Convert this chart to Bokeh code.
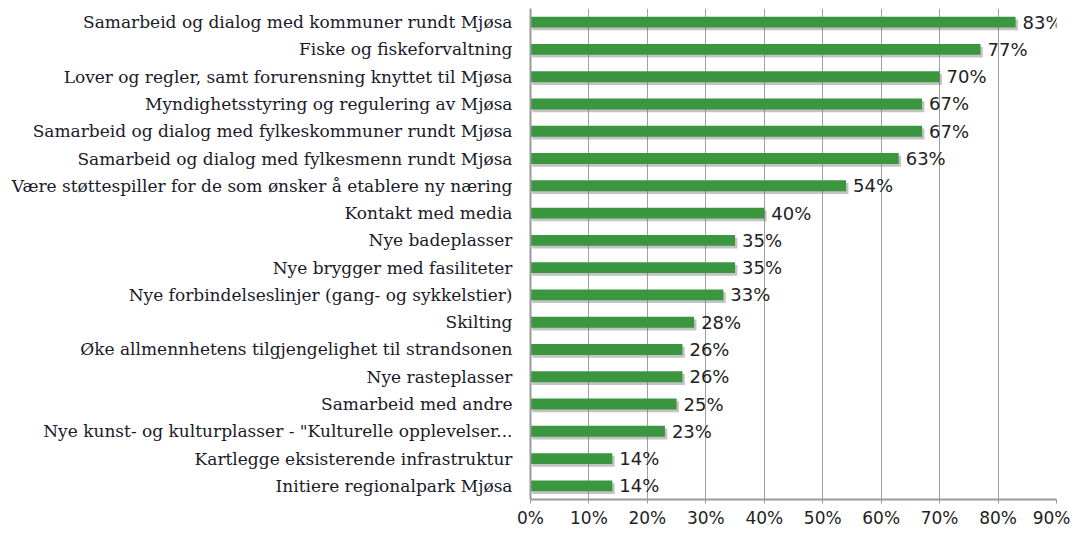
from bokeh.plotting import figure
from bokeh.models import FactorRange, Range1d, FixedTicker, ColumnDataSource
from bokeh.transform import dodge
from bokeh.core.properties import value
from bokeh.embed import file_html
from bokeh.resources import INLINE

categories = [
    "Samarbeid og dialog med kommuner rundt Mjøsa",
    "Fiske og fiskeforvaltning",
    "Lover og regler, samt forurensning knyttet til Mjøsa",
    "Myndighetsstyring og regulering av Mjøsa",
    "Samarbeid og dialog med fylkeskommuner rundt Mjøsa",
    "Samarbeid og dialog med fylkesmenn rundt Mjøsa",
    "Være støttespiller for de som ønsker å etablere ny næring",
    "Kontakt med media",
    "Nye badeplasser",
    "Nye brygger med fasiliteter",
    "Nye forbindelseslinjer (gang- og sykkelstier)",
    "Skilting",
    "Øke allmennhetens tilgjengelighet til strandsonen",
    "Nye rasteplasser",
    "Samarbeid med andre",
    "Nye kunst- og kulturplasser - \"Kulturelle opplevelser...",
    "Kartlegge eksisterende infrastruktur",
    "Initiere regionalpark Mjøsa",
]
values = [83, 77, 70, 67, 67, 63, 54, 40, 35, 35, 33, 28, 26, 26, 25, 23, 14, 14]
x_ticks = [0, 10, 20, 30, 40, 50, 60, 70, 80, 90]
tick_labels = ["0%", "10%", "20%", "30%", "40%", "50%", "60%", "70%", "80%", "90%"]

src = ColumnDataSource(dict(
    cat=categories,
    val=values,
    lbl=[f"{v}%" for v in values],
    shadow=[v + 0.4 for v in values],
))

p = figure(
    width=1070, height=530,
    y_range=FactorRange(*reversed(categories)),
    x_range=Range1d(0, 90),
    output_backend="svg", toolbar_location=None,
    min_border_left=530, min_border_right=14,
    min_border_top=8, min_border_bottom=0,
)
p.outline_line_color = None
p.background_fill_color = "white"

# shadow
p.hbar(y=dodge("cat", -0.1, range=p.y_range), left=0.3, right="shadow", height=0.4,
       source=src, fill_color="#6a6a6a", fill_alpha=0.4, line_color=None)
p.hbar(y="cat", left=0, right="val", height=0.4, source=src,
       fill_color="#3a963f", line_color=None)
p.text(x="val", y="cat", text="lbl", source=src, x_offset=7,
       text_baseline="middle", text_align="left",
       text_font=value("DejaVu Sans"), text_font_size="18px", text_color="#222222")

p.xgrid.ticker = FixedTicker(ticks=x_ticks)
p.xgrid.grid_line_color = "#a0a0a0"
p.ygrid.grid_line_color = None

xa = p.xaxis[0]
xa.ticker = FixedTicker(ticks=x_ticks)
xa.major_label_overrides = {t: l for t, l in zip(x_ticks, tick_labels)}
xa.axis_line_color = "#9a9a9a"
xa.axis_line_width = 2
xa.major_tick_line_color = "#9a9a9a"
xa.major_tick_out = 4
xa.major_tick_in = 0
xa.minor_tick_line_color = None
xa.major_label_standoff = 4
xa.major_label_text_font = "DejaVu Sans"
xa.major_label_text_font_size = "17px"
xa.major_label_text_color = "#222222"

ya = p.yaxis[0]
ya.axis_line_color = "#9a9a9a"
ya.axis_line_width = 2
ya.major_tick_line_color = None
ya.minor_tick_line_color = None
ya.major_label_standoff = 12
ya.major_label_text_font = "DejaVu Serif"
ya.major_label_text_font_size = "17px"
ya.major_label_text_color = "#1a1a2a"

open("out.html", "w").write(file_html(p, INLINE))
